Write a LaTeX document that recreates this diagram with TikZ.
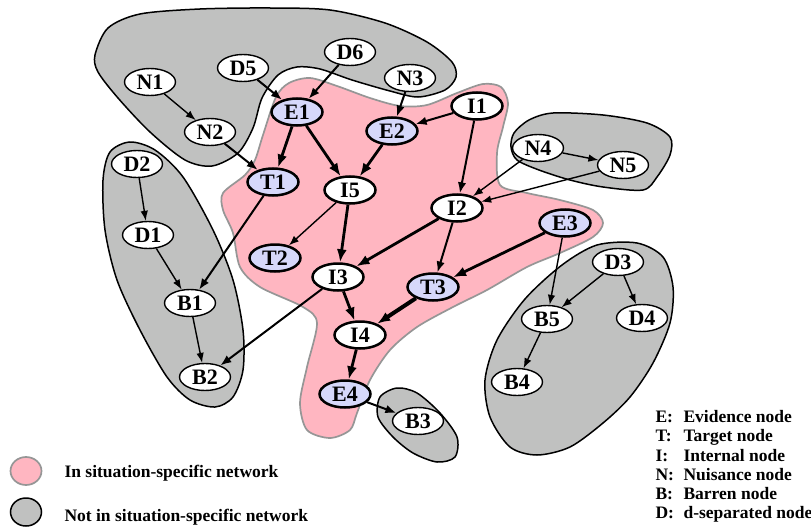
\documentclass[tikz,border=0pt]{standalone}
\usepackage{fontspec}
\setmainfont{Liberation Serif}
\usetikzlibrary{shapes.geometric, arrows.meta}

\definecolor{evblue}{RGB}{214,216,250}
\definecolor{sspink}{RGB}{255,182,193}
\definecolor{outgrey}{RGB}{192,193,192}
\definecolor{rimgrey}{RGB}{150,150,150}

\begin{document}
\begin{tikzpicture}[x=1pt, y=-1pt, font=\bfseries\fontsize{22}{24}\selectfont,
    main/.style = {draw, ellipse, fill=white, minimum width=51pt, minimum height=27pt, inner sep=0pt},
    inner/.style = {main, line width=2.5pt},
    outer/.style = {main, line width=1.4pt},
    ev/.style = {inner, fill=evblue},
    lnk/.style = {line width=1.4pt, -{Latex[length=10pt, width=7.5pt]}},
    lnkmid/.style = {line width=2pt, -{Latex[length=11pt, width=8.5pt]}},
    lnkbig/.style = {line width=2.8pt, -{Latex[length=13pt, width=10pt]}},
    blob/.style = {draw, fill=outgrey, line width=1.5pt},
    ssn/.style = {draw=rimgrey, fill=sspink, line width=1.7pt},
    key/.style = {anchor=base west, font=\bfseries\fontsize{17.5}{19}\selectfont}]

    \useasboundingbox (0,0) rectangle (811,527);

    % regions outside the situation-specific network
    \draw[blob] plot[smooth cycle] coordinates {(95,55) (108,28) (140,14) (200,9) (270,8) (330,10)
        (385,23) (427,42) (452,62) (456,77) (445,90) (418,97) (390,91) (352,80) (320,69) (297,67)
        (278,75) (262,98) (253,128) (238,153) (212,166) (185,160) (150,132) (118,98) (98,72)};
    \draw[blob] plot[smooth cycle] coordinates {(130,142) (155,150) (183,177) (213,230) (233,280)
        (243,330) (243,370) (233,397) (215,407) (190,400) (167,377) (140,330) (117,280) (105,230)
        (103,180) (110,152)};
    \draw[blob] plot[smooth cycle] coordinates {(514,133) (529,120) (553,113) (603,115) (647,123)
        (670,137) (670,155) (657,177) (643,190) (603,187) (570,180) (539,170) (517,160) (511,147)};
    \draw[blob] plot[smooth cycle] coordinates {(562,265) (597,245) (637,243) (663,257) (673,287)
        (670,323) (653,363) (630,397) (603,423) (570,447) (537,455) (510,447) (490,417) (485,380)
        (497,340) (525,299)};
    \draw[blob] plot[smooth cycle] coordinates {(380,397) (397,388) (417,393) (440,413) (457,437)
        (455,457) (437,462) (413,453) (393,437) (378,417)};

    % situation-specific network
    \draw[ssn] plot[smooth cycle] coordinates {(276,97) (289,83) (310,78) (337,86) (370,98) (400,106)
        (427,105) (457,93) (483,84) (501,87) (508,103) (503,127) (497,153) (500,185) (527,193)
        (560,200) (593,210) (603,223) (593,237) (560,253) (527,267) (487,290) (453,307) (417,327)
        (390,350) (370,380) (357,413) (350,430) (330,438) (307,430) (300,403) (307,367) (317,323)
        (303,307) (260,287) (240,267) (233,233) (223,210) (223,193) (245,175) (255,160) (263,135)};

    \node[outer] (N1) at (150,82) {N1};
    \node[outer] (N2) at (210,132) {N2};
    \node[outer] (D5) at (243,68) {D5};
    \node[outer] (D6) at (350,52) {D6};
    \node[ev] (E1) at (297,112) {E1};
    \node[outer] (N3) at (410,78) {N3};
    \node[ev] (E2) at (392,131) {E2};
    \node[inner] (I1) at (477,106) {I1};
    \node[outer] (N4) at (538,148) {N4};
    \node[outer] (N5) at (623,165) {N5};
    \node[outer] (D2) at (137,164) {D2};
    \node[ev] (T1) at (273,182) {T1};
    \node[inner] (I5) at (350,190) {I5};
    \node[inner] (I2) at (457,208) {I2};
    \node[outer] (D1) at (148,235) {D1};
    \node[ev] (E3) at (565,223) {E3};
    \node[ev] (T2) at (275,258) {T2};
    \node[inner] (I3) at (338,277) {I3};
    \node[ev] (T3) at (433,287) {T3};
    \node[outer] (D3) at (618,262) {D3};
    \node[outer] (B1) at (190,303) {B1};
    \node[outer] (B5) at (547,319) {B5};
    \node[outer] (D4) at (642,318) {D4};
    \node[inner] (I4) at (360,335) {I4};
    \node[outer] (B2) at (205,377) {B2};
    \node[outer] (B4) at (517,382) {B4};
    \node[ev] (E4) at (345,394) {E4};
    \node[outer] (B3) at (418,421) {B3};

    \draw[lnk] (N1) -- (N2);
    \draw[lnkmid] (N2) -- (T1);
    \draw[lnkmid] (D5) -- (E1);
    \draw[lnkmid] (D6) -- (E1);
    \draw[lnkmid] (N3) -- (E2);
    \draw[lnkmid] (I1) -- (E2);
    \draw[lnkmid] (I1) -- (I2);
    \draw[lnkbig] (E1) -- (T1);
    \draw[lnkbig] (E1) -- (I5);
    \draw[lnkbig] (E2) -- (I5);
    \draw[lnk] (N4) -- (N5);
    \draw[lnk] (N4) -- (I2);
    \draw[lnk] (N5) -- (I2);
    \draw[lnk] (I5) -- (T2);
    \draw[lnkbig] (I5) -- (I3);
    \draw[lnkbig] (I2) -- (I3);
    \draw[lnkmid] (I2) -- (T3);
    \draw[lnkbig] (E3) -- (T3);
    \draw[lnkbig] (I3) -- (I4);
    \draw[lnkbig, line width=4pt] (T3) -- (I4);
    \draw[lnkbig] (I4) -- (E4);
    \draw[lnkmid] (E4) -- (B3);
    \draw[lnk] (D2) -- (D1);
    \draw[lnk] (D1) -- (B1);
    \draw[lnkmid] (T1) -- (B1);
    \draw[lnk] (B1) -- (B2);
    \draw[lnkmid] (I3) -- (B2);
    \draw[lnk] (E3) -- (B5);
    \draw[lnk] (D3) -- (B5);
    \draw[lnk] (D3) -- (D4);
    \draw[lnk] (B5) -- (B4);

    % key
    \node[ssn, ellipse, minimum width=31pt, minimum height=28pt, inner sep=0pt] (keyin) at (26,471) {};
    \node[blob, ellipse, minimum width=31pt, minimum height=28pt, inner sep=0pt] (keyout) at (26,512) {};
    \node[key] (keyintxt) at (61,477) {In situation-specific network};
    \node[key] (keyouttxt) at (61,521) {Not in situation-specific network};
    \foreach \ltr/\desc [count=\i] in {E/Evidence node, T/Target node, I/Internal node,
            N/Nuisance node, B/Barren node, D/d-separated node} {
        \node[key] (ltr\i) at (652,{403.5+19.2*\i}) {\ltr:};
        \node[key] (desc\i) at (680,{403.5+19.2*\i}) {\desc};
    }
\end{tikzpicture}
\end{document}
